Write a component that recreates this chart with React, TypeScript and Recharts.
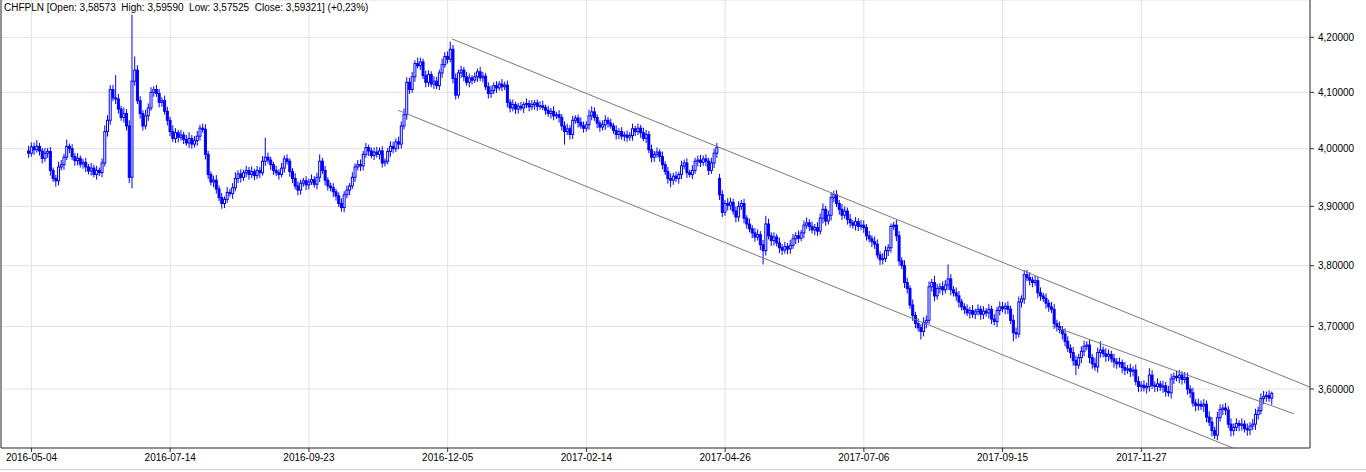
import React from "react";
import {
  ComposedChart, Bar, XAxis, YAxis, CartesianGrid, ReferenceLine,
} from "recharts";

// daily closes, first bar is the day before 2016-05-04 (index -1)
const firstIdx = -1;
const firstOpen = 3.996;
const closes = [
  3.992, 4.003, 3.998, 4.004, 3.996, 3.983, 3.992, 3.995, 3.962, 3.948,
  3.944, 3.968, 3.972, 3.985, 4.004, 4.000, 3.986, 3.979, 3.983, 3.973,
  3.976, 3.968, 3.961, 3.966, 3.955, 3.962, 3.958, 3.975, 4.030, 4.050,
  4.105, 4.090, 4.088, 4.070, 4.055, 4.062, 4.040, 3.950, 4.120, 4.140,
  4.085, 4.062, 4.040, 4.058, 4.072, 4.100, 4.105, 4.098, 4.082, 4.085,
  4.066, 4.050, 4.030, 4.018, 4.028, 4.020, 4.024, 4.016, 4.010, 4.018,
  4.008, 4.014, 4.022, 4.036, 4.034, 3.990, 3.955, 3.942, 3.945, 3.930,
  3.915, 3.905, 3.912, 3.924, 3.922, 3.932, 3.948, 3.956, 3.950, 3.958,
  3.962, 3.955, 3.960, 3.953, 3.962, 3.958, 3.978, 3.985, 3.980, 3.972,
  3.962, 3.958, 3.955, 3.966, 3.982, 3.978, 3.960, 3.948, 3.935, 3.928,
  3.940, 3.944, 3.937, 3.942, 3.946, 3.938, 3.950, 3.978, 3.962, 3.945,
  3.935, 3.932, 3.925, 3.918, 3.905, 3.898, 3.920, 3.928, 3.935, 3.950,
  3.968, 3.972, 3.970, 3.990, 4.002, 3.996, 3.988, 3.994, 3.990, 3.996,
  3.975, 3.978, 3.995, 4.004, 4.000, 4.012, 4.008, 4.040, 4.060, 4.118,
  4.105, 4.128, 4.152, 4.148, 4.155, 4.130, 4.118, 4.132, 4.115, 4.120,
  4.112, 4.135, 4.150, 4.165, 4.160, 4.178, 4.125, 4.095, 4.135, 4.140,
  4.128, 4.118, 4.126, 4.122, 4.128, 4.137, 4.126, 4.129, 4.110, 4.098,
  4.103, 4.112, 4.108, 4.115, 4.110, 4.113, 4.082, 4.072, 4.078, 4.070,
  4.075, 4.072, 4.078, 4.080, 4.074, 4.078, 4.081, 4.075, 4.076, 4.073,
  4.068, 4.062, 4.066, 4.058, 4.060, 4.055, 4.040, 4.030, 4.035, 4.025,
  4.050, 4.054, 4.046, 4.040, 4.036, 4.042, 4.058, 4.065, 4.055, 4.045,
  4.038, 4.042, 4.050, 4.045, 4.040, 4.032, 4.025, 4.030, 4.022, 4.024,
  4.020, 4.023, 4.035, 4.030, 4.036, 4.028, 4.018, 4.025, 3.998, 3.985,
  3.990, 3.994, 3.986, 3.972, 3.960, 3.948, 3.945, 3.952, 3.948, 3.955,
  3.970, 3.975, 3.958, 3.955, 3.962, 3.978, 3.980, 3.976, 3.982, 3.978,
  3.962, 3.975, 3.992, 4.002, 3.920, 3.890, 3.905, 3.902, 3.907, 3.892,
  3.882, 3.900, 3.905, 3.880, 3.870, 3.862, 3.855, 3.848, 3.852, 3.835,
  3.825, 3.870, 3.850, 3.842, 3.848, 3.838, 3.830, 3.826, 3.832, 3.828,
  3.834, 3.845, 3.850, 3.846, 3.855, 3.868, 3.872, 3.866, 3.860, 3.864,
  3.858, 3.880, 3.895, 3.875, 3.885, 3.915, 3.920, 3.905, 3.895, 3.885,
  3.892, 3.878, 3.872, 3.868, 3.874, 3.866, 3.868, 3.864, 3.850, 3.845,
  3.840, 3.836, 3.818, 3.810, 3.812, 3.825, 3.830, 3.866, 3.868, 3.850,
  3.808, 3.800, 3.772, 3.762, 3.735, 3.718, 3.705, 3.698, 3.692, 3.706,
  3.710, 3.765, 3.772, 3.750, 3.762, 3.765, 3.760, 3.768, 3.778, 3.760,
  3.755, 3.750, 3.740, 3.732, 3.728, 3.722, 3.726, 3.720, 3.724, 3.728,
  3.720, 3.725, 3.722, 3.728, 3.712, 3.708, 3.726, 3.732, 3.729, 3.733,
  3.728, 3.710, 3.690, 3.688, 3.740, 3.745, 3.785, 3.780, 3.776, 3.772,
  3.775, 3.755, 3.750, 3.746, 3.738, 3.732, 3.728, 3.705, 3.700, 3.695,
  3.688, 3.676, 3.665, 3.658, 3.645, 3.638, 3.650, 3.660, 3.668, 3.670,
  3.650, 3.640, 3.635, 3.658, 3.662, 3.656, 3.652, 3.655, 3.648, 3.643,
  3.640, 3.642, 3.634, 3.630, 3.632, 3.628, 3.630, 3.612, 3.604, 3.606,
  3.602, 3.604, 3.622, 3.606, 3.604, 3.608, 3.603, 3.605, 3.596, 3.594,
  3.616, 3.620, 3.618, 3.622, 3.615, 3.618, 3.600, 3.594, 3.578, 3.574,
  3.576, 3.573, 3.576, 3.556, 3.548, 3.535, 3.528, 3.555, 3.568, 3.570,
  3.567, 3.545, 3.535, 3.540, 3.546, 3.543, 3.545, 3.538, 3.536, 3.542,
  3.545, 3.560, 3.566, 3.585, 3.588, 3.590, 3.58573, 3.59321,
];

// wick lengths above / below the body, in thousandths
const wickUp = [
  9, 8, 8, 11, 6, 5, 9, 6, 8, 5, 6, 9, 8, 6, 12, 5, 8, 6, 9, 5,
  6, 8, 5, 9, 6, 8, 5, 8, 11, 9, 8, 8, 41, 9, 6, 11, 8, 10, 122, 25,
  9, 8, 6, 11, 8, 9, 6, 8, 8, 6, 9, 8, 6, 11, 8, 5, 9, 6, 8, 11,
  6, 8, 9, 6, 8, 9, 6, 5, 8, 9, 6, 8, 5, 9, 6, 8, 11, 6, 8, 5,
  8, 6, 9, 5, 8, 6, 9, 34, 8, 6, 5, 8, 6, 9, 6, 8, 5, 6, 9, 8,
  6, 5, 8, 6, 9, 6, 8, 12, 6, 8, 5, 6, 8, 5, 6, 9, 6, 8, 5, 9,
  6, 8, 9, 6, 8, 5, 6, 8, 9, 6, 8, 5, 6, 9, 8, 6, 9, 8, 11, 9,
  8, 9, 6, 11, 8, 6, 9, 8, 6, 9, 8, 6, 11, 8, 9, 14, 8, 9, 6, 8,
  6, 9, 8, 5, 8, 6, 9, 8, 6, 8, 9, 6, 8, 5, 9, 6, 8, 6, 9, 5,
  6, 8, 5, 9, 6, 8, 5, 6, 8, 9, 5, 8, 6, 9, 5, 8, 6, 8, 9, 6,
  8, 5, 6, 9, 8, 6, 11, 10, 8, 6, 5, 8, 9, 6, 8, 5, 9, 6, 8, 6,
  8, 6, 9, 5, 8, 6, 9, 8, 6, 9, 6, 8, 5, 9, 6, 8, 9, 6, 8, 5,
  9, 6, 8, 5, 9, 6, 8, 9, 6, 8, 6, 9, 8, 8, 8, 8, 6, 9, 8, 6,
  8, 9, 6, 8, 5, 9, 6, 8, 9, 6, 8, 14, 9, 6, 8, 5, 9, 6, 8, 6,
  9, 8, 6, 9, 5, 8, 9, 6, 8, 6, 9, 8, 10, 6, 8, 9, 7, 8, 6, 9,
  8, 6, 9, 5, 8, 6, 9, 8, 6, 8, 6, 9, 8, 6, 9, 8, 6, 5, 6, 9,
  8, 6, 9, 8, 5, 9, 6, 8, 6, 9, 8, 9, 6, 11, 8, 6, 9, 8, 24, 8,
  6, 9, 8, 5, 6, 8, 6, 9, 5, 8, 6, 8, 5, 9, 6, 8, 6, 9, 8, 6,
  8, 6, 9, 8, 9, 6, 8, 8, 9, 6, 8, 6, 9, 5, 8, 6, 8, 9, 6, 8,
  6, 9, 8, 6, 9, 8, 6, 8, 9, 6, 8, 6, 9, 8, 14, 6, 9, 8, 6, 8,
  6, 8, 5, 9, 6, 8, 6, 9, 8, 6, 8, 6, 11, 8, 6, 9, 5, 8, 6, 9,
  8, 6, 9, 8, 6, 9, 8, 6, 8, 6, 9, 6, 8, 6, 9, 8, 6, 9, 8, 6,
  8, 6, 9, 6, 8, 5, 9, 6, 8, 6, 8, 9, 6, 8, 9, 6, 8, 2.7,
];
const wickDn = [
  8, 6, 9, 5, 8, 9, 6, 8, 9, 6, 10, 8, 6, 9, 5, 8, 6, 9, 8, 6,
  8, 9, 6, 8, 5, 9, 6, 8, 6, 9, 8, 6, 9, 8, 6, 9, 8, 10, 19, 8,
  6, 9, 8, 6, 9, 5, 8, 6, 9, 8, 6, 9, 8, 6, 8, 9, 6, 8, 5, 9,
  8, 6, 9, 8, 6, 9, 8, 6, 9, 8, 6, 9, 8, 6, 5, 9, 6, 8, 9, 6,
  8, 9, 6, 8, 6, 9, 5, 8, 6, 9, 8, 6, 9, 5, 8, 6, 9, 8, 6, 9,
  8, 6, 9, 8, 5, 6, 9, 8, 6, 9, 8, 6, 9, 8, 6, 7, 8, 6, 9, 5,
  8, 6, 9, 8, 6, 9, 5, 8, 6, 9, 8, 6, 5, 9, 8, 6, 9, 8, 6, 9,
  8, 6, 9, 5, 8, 6, 9, 8, 6, 9, 6, 8, 9, 6, 8, 6, 9, 8, 6, 9,
  8, 6, 9, 8, 5, 9, 6, 8, 6, 9, 8, 6, 9, 5, 8, 6, 9, 8, 6, 9,
  8, 5, 9, 6, 8, 6, 9, 8, 6, 5, 8, 6, 9, 8, 6, 9, 8, 23, 6, 9,
  8, 6, 9, 5, 8, 6, 9, 8, 6, 9, 8, 6, 9, 8, 5, 6, 9, 8, 6, 9,
  8, 6, 9, 8, 6, 9, 5, 8, 6, 9, 8, 6, 9, 8, 6, 9, 12, 8, 6, 9,
  8, 6, 9, 5, 8, 6, 9, 8, 6, 9, 8, 6, 9, 8, 9, 8, 6, 9, 8, 6,
  9, 8, 6, 9, 8, 6, 9, 8, 6, 9, 23, 8, 6, 9, 8, 6, 9, 8, 6, 9,
  8, 6, 9, 8, 5, 9, 6, 8, 6, 9, 8, 6, 9, 8, 6, 9, 8, 6, 9, 8,
  6, 9, 8, 6, 9, 8, 6, 9, 8, 6, 9, 8, 6, 9, 8, 6, 9, 8, 6, 9,
  8, 6, 9, 8, 6, 9, 8, 6, 13, 8, 9, 6, 8, 9, 6, 8, 9, 6, 8, 9,
  6, 8, 9, 6, 8, 5, 9, 6, 8, 6, 9, 8, 6, 9, 8, 6, 9, 8, 6, 9,
  8, 6, 14, 8, 6, 9, 8, 6, 9, 8, 6, 9, 8, 6, 9, 8, 6, 9, 8, 6,
  9, 8, 6, 9, 8, 16, 6, 9, 8, 6, 9, 8, 6, 9, 8, 6, 9, 8, 6, 9,
  8, 6, 9, 8, 6, 9, 8, 6, 9, 8, 6, 9, 8, 6, 9, 8, 6, 9, 8, 6,
  9, 8, 6, 9, 8, 6, 9, 8, 6, 9, 8, 6, 9, 8, 6, 9, 6, 8, 6, 9,
  8, 6, 9, 8, 6, 9, 8, 6, 9, 8, 6, 9, 8, 6, 9, 8, 6, 10.5,
];

// the one visible opening gap (bar index from 2016-05-04)
const gapAt = [253];
const gapOpen = [3.948];

const tickIdx = [0, 51, 102, 153, 204, 255, 306, 357, 408];
const tickLabels = [
  "2016-05-04", "2016-07-14", "2016-09-23", "2016-12-05", "2017-02-14",
  "2017-04-26", "2017-07-06", "2017-09-15", "2017-11-27",
];
const priceTicks = [3.6, 3.7, 3.8, 3.9, 4.0, 4.1, 4.2];

// channel lines: [bar index, price] pairs
const upperLine = [[154.6, 4.197], [470, 3.603]];
const lowerLine = [[134.7, 4.068], [441.7, 3.508]];
const midLine = [[375.2, 3.701], [464.1, 3.561]];

const xMin = -11.2;
const xMax = 470;
const yMin = 3.5081;
const yMax = 4.2693;

const data = closes.map((c, k) => {
  const i = k + firstIdx;
  const g = gapAt.indexOf(i);
  const open = g >= 0 ? gapOpen[g] : k === 0 ? firstOpen : closes[k - 1];
  const high = Math.max(open, c) + wickUp[k] / 1000;
  const low = Math.min(open, c) - wickDn[k] / 1000;
  return { i, open, close: c, high, low, range: [low, high] };
});

const BLUE = "#0000ff";

function Candle(props: any) {
  const { x, y, width, height, payload } = props;
  if (!payload || x == null || y == null || height == null) return null;
  const top = Math.min(y, y + height);
  const h = Math.abs(height);
  const { open, close, high, low } = payload;
  const span = Math.log(high) - Math.log(low);
  const py = (v: number) => top + ((Math.log(high) - Math.log(v)) / span) * h;
  const cx = x + width / 2;
  const b1 = py(Math.max(open, close));
  const b2 = py(Math.min(open, close));
  const up = close >= open;
  return (
    <g>
      <line x1={cx} x2={cx} y1={top} y2={top + h} stroke={BLUE} strokeWidth={1} />
      <rect
        x={cx - 1}
        y={b1}
        width={2}
        height={Math.max(b2 - b1, 0.5)}
        fill={up ? "#ffffff" : BLUE}
        stroke={BLUE}
        strokeWidth={1}
      />
    </g>
  );
}

const seg = (l: number[][]) => [
  { x: l[0][0], y: l[0][1] },
  { x: l[1][0], y: l[1][1] },
];

const font = "'Liberation Sans', Arial, sans-serif";

export default function App() {
  return (
    <div style={{ position: "absolute", left: 0, top: 0, width: 1366, height: 472, background: "#fff", fontFamily: font }}>
      <ComposedChart
        width={1366}
        height={468}
        data={data}
        margin={{ top: 0, right: 0, bottom: 0, left: 1 }}
      >
        <CartesianGrid stroke="#e2e2e2" />
        <XAxis
          dataKey="i"
          type="number"
          domain={[xMin, xMax]}
          allowDataOverflow
          ticks={tickIdx}
          interval={0}
          tickFormatter={(v: number) => tickLabels[tickIdx.indexOf(v)] ?? ""}
          tick={{ fontSize: 10, fill: "#000", fontFamily: font }}
          tickSize={4}
          tickMargin={2}
          height={20}
          axisLine={{ stroke: "#333" }}
          tickLine={{ stroke: "#333" }}
        />
        <YAxis
          orientation="right"
          scale="log"
          domain={[yMin, yMax]}
          allowDataOverflow
          ticks={priceTicks}
          interval={0}
          tickFormatter={(v: number) => v.toFixed(5).replace(".", ",")}
          tick={{ fontSize: 10, fill: "#000", fontFamily: font, textAnchor: "start" }}
          tickSize={4}
          tickMargin={4}
          width={56}
          axisLine={{ stroke: "#333" }}
          tickLine={{ stroke: "#333" }}
        />
        <ReferenceLine x={xMin} stroke="#333" ifOverflow="visible" />
        <ReferenceLine segment={seg(upperLine)} stroke="#7a7a7a" ifOverflow="visible" />
        <ReferenceLine segment={seg(lowerLine)} stroke="#7a7a7a" ifOverflow="visible" />
        <ReferenceLine segment={seg(midLine)} stroke="#7a7a7a" ifOverflow="visible" />
        <Bar dataKey="range" barSize={3} shape={<Candle />} isAnimationActive={false} />
      </ComposedChart>
      <div
        style={{
          position: "absolute", left: 4, top: 2, fontSize: 10, color: "#000",
          whiteSpace: "pre", fontFamily: font,
        }}
      >
        {"CHFPLN [Open: 3,58573  High: 3,59590  Low: 3,57525  Close: 3,59321] (+0,23%)"}
      </div>
      <div style={{ position: "absolute", left: 0, top: 469, width: 1366, height: 1, background: "#d4d4d4" }} />
    </div>
  );
}
